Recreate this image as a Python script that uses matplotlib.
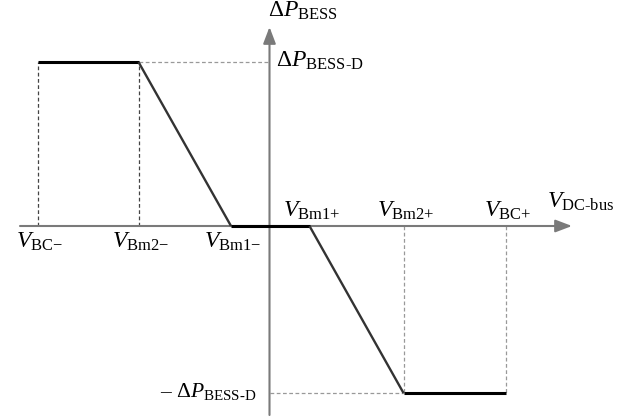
import matplotlib.pyplot as plt

plt.rcParams['mathtext.fontset'] = 'custom'
plt.rcParams['mathtext.rm'] = 'Liberation Serif'
plt.rcParams['mathtext.it'] = 'Liberation Serif:italic'
plt.rcParams['font.family'] = 'Liberation Serif'

# breakpoints of the droop curve (voltage axis) and power limits
v_points = [-2.32, -1.31, -0.385, 0.40, 1.34, 2.365]
p_points = [1.64, 1.64, 0.0, 0.0, -1.67, -1.67]
v_labels = [r'$V_{\text{BC−}}$', r'$V_{\text{Bm2−}}$', r'$V_{\text{Bm1−}}$',
            r'$V_{\text{Bm1+}}$', r'$V_{\text{Bm2+}}$', r'$V_{\text{BC+}}$']
p_max, p_min = p_points[0], p_points[-1]

fig = plt.figure(figsize=(6.33, 4.2), dpi=100)
ax = fig.add_axes([0, 0, 1, 1])
ax.set_xlim(-2.695, 3.635)
ax.set_ylim(-1.94, 2.26)
ax.axis('off')

axcol = '#7a7a7a'
arrow = dict(arrowstyle='-|>,head_length=1.0,head_width=0.38', color=axcol,
             lw=1.5, shrinkA=0, shrinkB=0, mutation_scale=10)
ax.annotate('', xy=(3.025, 0), xytext=(-2.495, 0), arrowprops=arrow)
ax.annotate('', xy=(0, 1.99), xytext=(0, -1.89), arrowprops=arrow)

# guide lines
dash = (3, 2)
ax.plot([v_points[0]] * 2, [0, p_max], color='#444444', lw=0.9, dashes=dash)
ax.plot([v_points[1]] * 2, [0, p_max], color='#444444', lw=0.9, dashes=dash)
ax.plot([v_points[1], 0], [p_max] * 2, color='#999999', lw=0.9, dashes=dash)
ax.plot([v_points[4]] * 2, [0, p_min], color='#999999', lw=0.9, dashes=dash)
ax.plot([v_points[5]] * 2, [0, p_min], color='#999999', lw=0.9, dashes=dash)
ax.plot([0, v_points[4]], [p_min] * 2, color='#999999', lw=0.9, dashes=dash)

# curve: flat parts thick black, slopes slightly thinner
for i in range(len(v_points) - 1):
    flat = p_points[i] == p_points[i + 1]
    ax.plot(v_points[i:i + 2], p_points[i:i + 2],
            color='black' if flat else '#333333',
            lw=2.2 if flat else 1.7, solid_capstyle='butt', zorder=3)

fs = 17
for i, (v, lab) in enumerate(zip(v_points, v_labels)):
    y = -0.22 if v < 0 else 0.09
    ax.text(v + 0.02, y, lab, ha='center', va='baseline', fontsize=fs)

ax.text(2.775, 0.18, r'$V_{\text{DC-bus}}$', ha='left', va='baseline', fontsize=fs)
ax.text(-0.015, 2.09, r'$\Delta P_{\text{BESS}}$', ha='left', va='baseline', fontsize=fs)
ax.text(0.065, 1.59, r'$\Delta P_{\text{BESS-D}}$', ha='left', va='baseline', fontsize=fs)
ax.text(-0.135, -1.71, r'$\text{– }\Delta P_{\text{BESS-D}}$', ha='right',
        va='baseline', fontsize=15.5)

fig.savefig('out.png', dpi=100)
